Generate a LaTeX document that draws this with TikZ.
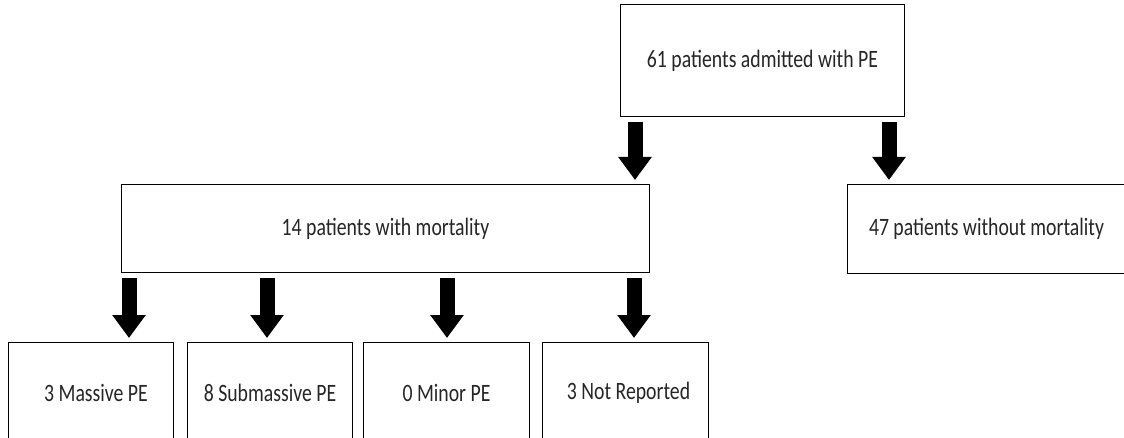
\documentclass[tikz,border=0pt]{standalone}
\usepackage{fontspec}
\setmainfont[FakeStretch=0.79]{Carlito}
\usetikzlibrary{arrows.meta}
\begin{document}
\begin{tikzpicture}[x=1pt,y=-1pt,
  box/.style={draw=black,line width=1pt,inner sep=0pt,anchor=north west,
    font=\fontsize{25}{29}\selectfont,text=black!85},
  barrow/.style={line width=15pt,-{Triangle[width=32pt,length=23pt]},
    shorten <=5pt,shorten >=4pt}]
\clip (0,0) rectangle (1124,438);
\fill[white] (0,0) rectangle (1124,438);
% boxes
\node[box,minimum width=284pt,minimum height=112pt] (top) at (620,4) {61 patients admitted with PE};
\node[box,minimum width=528pt,minimum height=88pt] (mid) at (121,184) {14 patients with mortality};
\node[box,minimum width=278pt,minimum height=89pt] (right) at (847,184) {47 patients without mortality};
\node[box,minimum width=165pt,minimum height=100pt] (b1) at (8,342) {\hspace{10pt}3 Massive PE};
\node[box,minimum width=165pt,minimum height=100pt] (b2) at (187,342) {8 Submassive PE};
\node[box,minimum width=166pt,minimum height=100pt] (b3) at (363,342) {0 Minor PE};
\node[box,minimum width=166pt,minimum height=100pt] (b4) at (542,342) {\hspace{6pt}3 Not Reported};
% arrow columns
\coordinate (c1) at (635,0);
\coordinate (c2) at (889,0);
\coordinate (d1) at (129,0);
\coordinate (d2) at (267,0);
\coordinate (d3) at (447,0);
\coordinate (d4) at (634,0);
% arrows
\draw[barrow] (c1 |- top.south) -- (c1 |- mid.north);
\draw[barrow] (c2 |- top.south) -- (c2 |- right.north);
\draw[barrow] (d1 |- mid.south) -- (d1 |- b1.north);
\draw[barrow] (d2 |- mid.south) -- (d2 |- b2.north);
\draw[barrow] (d3 |- mid.south) -- (d3 |- b3.north);
\draw[barrow] (d4 |- mid.south) -- (d4 |- b4.north);
\end{tikzpicture}
\end{document}
